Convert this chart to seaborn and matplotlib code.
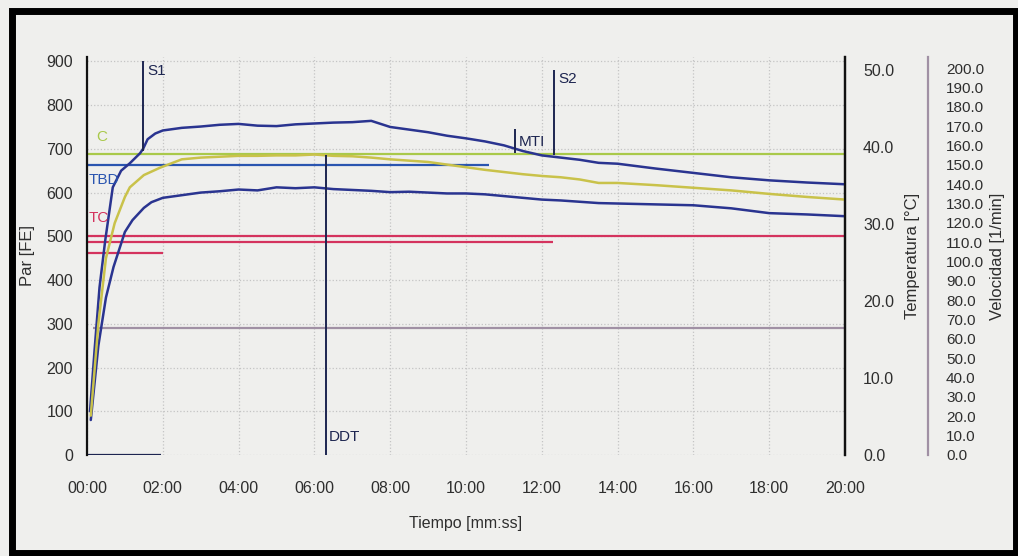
import matplotlib
matplotlib.use("Agg")
import matplotlib.pyplot as plt
import seaborn as sns
import pandas as pd
from matplotlib.patches import Rectangle
from matplotlib.ticker import FixedLocator, FixedFormatter

# ---------------- data ----------------
x_ticks = [0, 2, 4, 6, 8, 10, 12, 14, 16, 18, 20]
x_tick_labels = ["00:00", "02:00", "04:00", "06:00", "08:00", "10:00",
                 "12:00", "14:00", "16:00", "18:00", "20:00"]
y_ticks = [0, 100, 200, 300, 400, 500, 600, 700, 800, 900]
temp_ticks = [0.0, 10.0, 20.0, 30.0, 40.0, 50.0]
speed_ticks = [0, 10, 20, 30, 40, 50, 60, 70, 80, 90, 100, 110, 120,
               130, 140, 150, 160, 170, 180, 190, 200]

# upper band (max torque), minutes / FE
max_time = [0.08, 0.2, 0.33, 0.48, 0.68, 0.9, 1.13, 1.4, 1.48, 1.6, 1.8, 2.0,
            2.5, 3.0, 3.5, 4.0, 4.5, 5.0, 5.5, 6.0, 6.5, 7.0, 7.5, 8.0, 8.5,
            9.0, 9.5, 10.0, 10.5, 11.0, 11.5, 12.0, 12.5, 13.0, 13.5, 14.0,
            15.0, 16.0, 17.0, 18.0, 19.0, 20.0]
max_torque = [100, 240, 383, 490, 612, 650, 667, 690, 700, 722, 735, 742,
              748, 751, 755, 757, 753, 752, 756, 758, 760, 761, 764, 750, 744,
              738, 730, 724, 717, 708, 695, 685, 680, 675, 668, 666,
              655, 645, 635, 628, 623, 619]

# lower band (min torque)
min_time = [0.1, 0.3, 0.5, 0.7, 0.85, 1.0, 1.2, 1.5, 1.7, 2.0, 2.5, 3.0, 3.5,
            4.0, 4.5, 5.0, 5.5, 6.0, 6.5, 7.0, 7.5, 8.0, 8.5, 9.0, 9.5, 10.0,
            10.5, 11.0, 11.5, 12.0, 12.5, 13.0, 13.5, 14.0, 15.0, 16.0, 17.0,
            18.0, 19.0, 20.0]
min_torque = [80, 250, 360, 430, 470, 510, 537, 565, 578, 588, 594, 600, 603,
              607, 605, 612, 610, 612, 608, 606, 604, 601, 602, 600, 598, 598,
              596, 592, 588, 584, 582, 579, 576, 575, 573, 571, 564,
              553, 550, 546]

# mean curve
mean_time = [0.1, 0.3, 0.5, 0.73, 1.0, 1.13, 1.5, 1.93, 2.5, 3.0, 3.5, 4.0,
             4.5, 5.0, 5.5, 6.0, 6.5, 7.0, 7.5, 8.0, 8.5, 9.0, 9.5, 10.0,
             10.5, 11.0, 11.5, 12.0, 12.5, 13.0, 13.5, 14.0, 15.0, 16.0,
             17.0, 18.0, 19.0, 20.0]
mean_torque = [90, 300, 450, 530, 590, 612, 640, 657, 676, 680, 682, 684,
               684, 685, 685, 687, 684, 683, 680, 676, 673, 670, 664, 658,
               652, 647, 642, 638, 635, 630, 622, 622, 617, 611,
               605, 597, 590, 584]

# horizontal reference lines: name, level, from, to
ref_names = ["C", "TBD", "TC", "TC2", "TC3", "base300", "zero"]
ref_levels = [688, 664, 500, 487, 462, 290, 0]
ref_start = [0.0, 0.0, 0.0, 0.0, 0.0, 0.15, 0.0]
ref_end = [20.0, 10.6, 20.0, 12.3, 2.0, 20.0, 1.95]

# vertical event markers: name, time, from, to
event_names = ["S1", "DDT", "MTI", "S2"]
event_time = [1.48, 6.3, 11.3, 12.33]
event_low = [696, 0, 690, 686]
event_high = [900, 686, 745, 880]

# ---------------- styling ----------------
sns.set_theme(style="white")
plt.rcParams["font.family"] = ["Liberation Sans", "DejaVu Sans"]

BG = "#efefed"
NAVY = "#2a3490"
YELLOW = "#c9c24a"
GREEN = "#a9c94a"
BLUE = "#2a55b0"
RED = "#d4335e"
GREY = "#a090a4"
DARK = "#1d2550"
TXT = "#2e2e2e"

fig = plt.figure(figsize=(10.18, 5.56), dpi=100, facecolor=BG)
W, H = 1018, 556
left_px, right_px, top_px, bot_px = 87, 845, 57, 455
ax = fig.add_axes([left_px / W, 1 - bot_px / H,
                   (right_px - left_px) / W, (bot_px - top_px) / H])
ax.set_facecolor(BG)

# curves
df = pd.concat([
    pd.DataFrame({"t": max_time, "v": max_torque, "s": "max"}),
    pd.DataFrame({"t": min_time, "v": min_torque, "s": "min"}),
    pd.DataFrame({"t": mean_time, "v": mean_torque, "s": "mean"}),
])

# reference lines
ref_colors = [GREEN, BLUE, RED, RED, RED, GREY, DARK]
for lvl, a, b, c in zip(ref_levels, ref_start, ref_end, ref_colors):
    ax.hlines(lvl, a, b, colors=c, lw=1.6, zorder=2)

sns.lineplot(data=df, x="t", y="v", hue="s", estimator=None, sort=False,
             palette={"max": NAVY, "min": NAVY, "mean": YELLOW},
             lw=1.8, legend=False, ax=ax, zorder=3)

for t, lo, hi in zip(event_time, event_low, event_high):
    ax.vlines(t, lo, hi, colors=DARK, lw=1.4, zorder=4)

# labels on chart
ax.text(0.25, 727, "C", color=GREEN, fontsize=11, va="center")
ax.text(0.05, 628, "TBD", color=BLUE, fontsize=11, va="center")
ax.text(0.05, 541, "TC", color=RED, fontsize=11, va="center")
ax.text(1.6, 877, "S1", color=DARK, fontsize=11, va="center")
ax.text(12.45, 859, "S2", color=DARK, fontsize=11, va="center")
ax.text(11.38, 715, "MTI", color=DARK, fontsize=11, va="center")
ax.text(6.38, 41, "DDT", color=DARK, fontsize=11, va="center")

ax.set_xlim(0, 20)
ax.set_ylim(0, 910)
ax.xaxis.set_major_locator(FixedLocator(x_ticks))
ax.xaxis.set_major_formatter(FixedFormatter(x_tick_labels))
ax.yaxis.set_major_locator(FixedLocator(y_ticks))
ax.grid(True, color="#c4c4c4", ls=":", lw=0.9)
ax.tick_params(axis="both", length=0, labelsize=11.5, colors=TXT)
ax.tick_params(axis="x", pad=19)
ax.tick_params(axis="y", pad=10)
for s in ["top", "bottom"]:
    ax.spines[s].set_visible(False)
ax.spines["left"].set_color("#111111")
ax.spines["left"].set_linewidth(1.6)
ax.spines["right"].set_color("#111111")
ax.spines["right"].set_linewidth(1.6)
ax.set_xlabel("Tiempo [mm:ss]", fontsize=11.5, color=TXT, labelpad=14)
ax.set_ylabel("Par [FE]", fontsize=12, color=TXT, labelpad=8)

# temperature axis
axT = ax.twinx()
axT.set_ylim(0, 51.7)
axT.yaxis.set_major_locator(FixedLocator(temp_ticks))
axT.set_yticklabels([f"{v:.1f}" for v in temp_ticks])
axT.tick_params(axis="y", length=0, labelsize=11.5, colors=TXT, pad=13)
for s in ["top", "bottom", "left"]:
    axT.spines[s].set_visible(False)
axT.spines["right"].set_color("#111111")
axT.spines["right"].set_linewidth(1.6)
axT.set_ylabel("Temperatura [°C]", fontsize=12, color=TXT, labelpad=8)
axT.grid(False)

# speed axis
axS = ax.twinx()
axS.spines["right"].set_position(("axes", (928 - left_px) / (right_px - left_px)))
axS.set_ylim(0, 205.7)
axS.yaxis.set_major_locator(FixedLocator(speed_ticks))
axS.set_yticklabels([f"{v:.1f}" for v in speed_ticks])
axS.tick_params(axis="y", length=0, labelsize=11, colors=TXT, pad=13)
for s in ["top", "bottom", "left"]:
    axS.spines[s].set_visible(False)
axS.spines["right"].set_color(GREY)
axS.spines["right"].set_linewidth(1.6)
axS.set_ylabel("Velocidad [1/min]", fontsize=12, color=TXT, labelpad=4)
axS.grid(False)

# photo frame
fig.add_artist(Rectangle((11.5 / W, 3.0 / H), (1015.5 - 11.5) / W, (545 - 3.0) / H,
                         transform=fig.transFigure, fill=False,
                         edgecolor="black", lw=5, zorder=10))

fig.savefig("out.png", dpi=100, facecolor=BG)
